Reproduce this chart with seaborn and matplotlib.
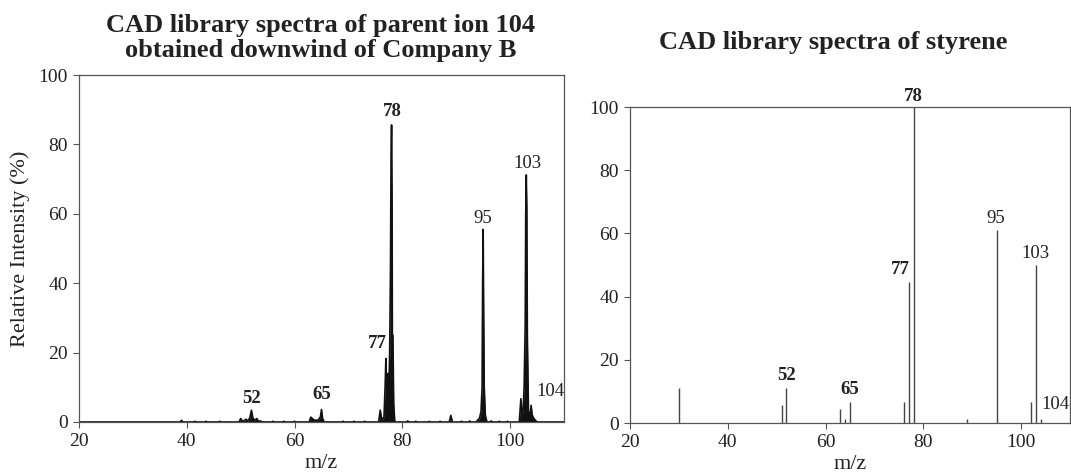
import numpy as np
import pandas as pd
import matplotlib
matplotlib.use("Agg")
import matplotlib.pyplot as plt
import seaborn as sns

# ---------------- data ----------------
# Left panel: profile spectrum (m/z, relative intensity %)
profile_mz = [20.0, 38.8, 39.0, 39.3, 41.3, 41.5, 41.7, 43.4, 43.6, 43.8, 45.9, 46.1, 46.3,
              49.7, 50.0, 50.3, 50.7, 51.0, 51.3, 51.7, 52.0, 52.25, 52.6, 53.0, 53.3, 53.7, 54.0,
              55.8, 56.0, 56.2, 57.8, 58.0, 58.2, 59.8, 60.0, 60.2,
              62.7, 63.0, 63.3, 63.6, 64.0, 64.4, 64.8, 65.0, 65.2, 65.5,
              68.8, 69.0, 69.2, 70.8, 71.0, 71.2, 72.8, 73.0, 73.2,
              75.6, 75.9, 76.1, 76.3, 76.6, 76.8, 76.95, 77.05, 77.2, 77.35, 77.5, 77.65,
              77.8, 77.9, 78.0, 78.1, 78.15, 78.25, 78.4, 78.6,
              80.8, 81.0, 81.2, 82.3, 82.5, 82.7, 84.8, 85.0, 85.2, 86.8, 87.0, 87.2,
              88.7, 89.0, 89.3, 90.8, 91.0, 91.2, 92.3, 92.5, 92.7,
              93.7, 94.0, 94.3, 94.6, 94.8, 94.9, 95.0, 95.1, 95.2, 95.4, 95.7,
              96.3, 96.5, 96.7, 97.8, 98.0, 98.2, 99.3, 99.5, 99.7,
              101.7, 102.0, 102.2, 102.4, 102.6, 102.8, 102.9, 103.0, 103.1, 103.2, 103.4,
              103.7, 103.9, 104.1, 104.4, 104.7, 105.0, 110.0]
profile_int = [0.0, 0.0, 0.5, 0.0, 0.0, 0.2, 0.0, 0.0, 0.2, 0.0, 0.0, 0.2, 0.0,
               0.0, 1.0, 0.3, 0.4, 0.8, 0.3, 1.2, 3.4, 1.2, 0.5, 1.0, 0.2, 0.3, 0.0,
               0.0, 0.2, 0.0, 0.0, 0.2, 0.0, 0.0, 0.2, 0.0,
               0.0, 1.4, 1.0, 0.6, 0.5, 0.6, 1.5, 3.6, 1.0, 0.0,
               0.0, 0.2, 0.0, 0.0, 0.2, 0.0, 0.0, 0.2, 0.0,
               0.0, 3.4, 1.5, 0.5, 1.5, 10.0, 18.3, 11.0, 10.0, 14.0, 9.0, 20.0,
               44.0, 74.0, 85.6, 62.0, 25.0, 25.0, 5.0, 0.0,
               0.0, 0.3, 0.0, 0.0, 0.2, 0.0, 0.0, 0.2, 0.0, 0.0, 0.2, 0.0,
               0.0, 1.9, 0.0, 0.0, 0.2, 0.0, 0.0, 0.3, 0.0,
               0.0, 0.6, 1.0, 3.0, 10.0, 40.0, 55.5, 30.0, 10.0, 2.0, 0.0,
               0.0, 0.3, 0.0, 0.0, 0.2, 0.0, 0.0, 0.2, 0.0,
               0.0, 6.7, 2.0, 3.0, 10.0, 28.0, 60.0, 71.2, 62.0, 25.0, 3.0,
               2.0, 4.8, 2.0, 1.0, 0.5, 0.0, 0.0]

# Right panel: library stick spectrum of styrene
stick_mz = [30, 51, 52, 63, 64, 65, 76, 77, 78, 89, 95, 102, 103, 104]
stick_int = [11.0, 5.7, 11.0, 4.5, 1.2, 6.7, 6.7, 44.5, 100.0, 1.2, 61.0, 6.7, 50.0, 1.2]

# peak annotations
left_labels_txt = ["52", "65", "77", "78", "95", "103", "104"]
left_labels_x = [52.0, 65.1, 75.4, 78.2, 95.0, 103.2, 107.4]
left_labels_y = [4.4, 5.6, 20.2, 87.0, 56.3, 72.1, 6.3]
left_labels_bold = [True, True, True, True, False, False, False]

right_labels_txt = ["52", "65", "77", "78", "95", "103", "104"]
right_labels_x = [52.1, 65.0, 75.3, 77.9, 94.9, 103.0, 107.0]
right_labels_y = [12.3, 7.8, 45.8, 100.6, 62.0, 50.9, 3.3]
right_labels_bold = [True, True, True, True, False, False, False]

x_ticks = [20, 40, 60, 80, 100]
y_ticks = [0, 20, 40, 60, 80, 100]

left_title = "CAD library spectra of parent ion 104\nobtained downwind of Company B"
right_title = "CAD library spectra of styrene"

# ---------------- style ----------------
sns.set_theme(style="ticks")
plt.rcParams['font.family'] = ['Liberation Serif', 'DejaVu Serif']
TXT = "#222222"
SPINE = "#555555"

W, H = 1071, 476
fig = plt.figure(figsize=(W / 100, H / 100), dpi=100)

def px_axes(x0, x1, y_top, y_bot):
    return fig.add_axes([x0 / W, 1 - y_bot / H, (x1 - x0) / W, (y_bot - y_top) / H])

axL = px_axes(79, 564, 75, 422)
axR = px_axes(630, 1070, 107, 423)

# left profile spectrum
prof = pd.DataFrame({"mz": profile_mz, "intensity": profile_int})
axL.fill_between(prof["mz"], 0, prof["intensity"], color="#111111", lw=0)
sns.lineplot(data=prof, x="mz", y="intensity", ax=axL, color="#111111", lw=1.2,
             sort=False, estimator=None)

# right stick spectrum
axR.vlines(stick_mz, 0, stick_int, color="#444444", lw=1.0)

for ax, txts, xs, ys, bolds in [
    (axL, left_labels_txt, left_labels_x, left_labels_y, left_labels_bold),
    (axR, right_labels_txt, right_labels_x, right_labels_y, right_labels_bold),
]:
    ax.set_xlim(20, 110)
    ax.set_ylim(0, 100)
    ax.set_xticks(x_ticks)
    ax.set_yticks(y_ticks)
    ax.tick_params(direction="out", length=4, width=0.8, color=SPINE,
                   labelsize=14, labelcolor=TXT, pad=4)
    for s in ax.spines.values():
        s.set_visible(True)
        s.set_color(SPINE)
        s.set_linewidth(0.9)
    ax.set_xlabel("m/z", fontsize=16, color=TXT, labelpad=3)
    ax.set_ylabel("")
    for t, x, y, b in zip(txts, xs, ys, bolds):
        ax.text(x, y, t, ha="center", va="bottom", fontsize=13.5,
                fontweight="bold" if b else "normal", color=TXT, clip_on=False)

axL.set_ylabel("Relative Intensity (%)", fontsize=16, color=TXT, labelpad=6)

fig.text(321 / W, 1 - 38 / H, left_title, ha="center", va="center", fontsize=19,
         fontweight="bold", color=TXT, linespacing=1.15)
fig.text(833 / W, 1 - 42 / H, right_title, ha="center", va="center", fontsize=19,
         fontweight="bold", color=TXT)

fig.savefig("out.png", dpi=100)
